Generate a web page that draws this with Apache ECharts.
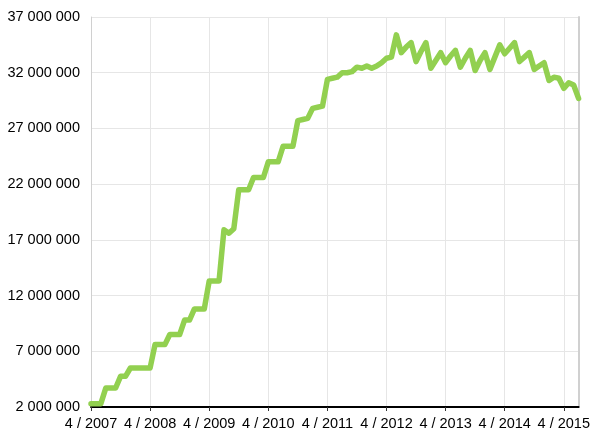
<!DOCTYPE html>
<html>
<head>
<meta charset="utf-8">
<script src="https://cdn.jsdelivr.net/npm/echarts@6/dist/echarts.min.js"></script>
<style>
html,body{margin:0;padding:0;background:#fff;}
#chart{width:593px;height:432px;}
</style>
</head>
<body>
<div id="chart"></div>
<script>
// Monthly categories: 4/2007 .. 7/2015
const startMonth = 4, startYear = 2007, monthCount = 100;
const categories = [];
for (let i = 0; i < monthCount; i++) {
  const m = (startMonth - 1 + i) % 12 + 1;
  const y = startYear + Math.floor((startMonth - 1 + i) / 12);
  categories.push(m + ' / ' + y);
}

// Series values
const values = [
  2300000, 2300000, 2300000, 3700000, 3700000, 3700000, 4750000, 4750000, 5500000, 5500000,
  5500000, 5500000, 5500000, 7600000, 7600000, 7600000, 8500000, 8500000, 8500000, 9800000,
  9800000, 10800000, 10800000, 10800000, 13300000, 13300000, 13300000, 17900000, 17600000, 18000000,
  21500000, 21500000, 21500000, 22600000, 22600000, 22600000, 24000000, 24000000, 24000000, 25400000,
  25400000, 25400000, 27700000, 27800000, 27900000, 28800000, 28900000, 29000000, 31400000, 31500000,
  31600000, 32000000, 32000000, 32100000, 32500000, 32400000, 32600000, 32400000, 32600000, 32900000,
  33300000, 33400000, 35400000, 33800000, 34300000, 34700000, 33000000, 33900000, 34700000, 32400000,
  33100000, 33800000, 32900000, 33500000, 34000000, 32500000, 33300000, 34000000, 32200000, 33100000,
  33800000, 32300000, 33400000, 34500000, 33700000, 34200000, 34700000, 33000000, 33400000, 33800000,
  32300000, 32600000, 32900000, 31300000, 31600000, 31500000, 30600000, 31100000, 30900000, 29700000
];

// Axis ticks
const yMin = 2000000, yMax = 37000000, yStep = 5000000;
const xLabelEvery = 12;

function fmt(v) {
  return String(v).replace(/\B(?=(\d{3})+(?!\d))/g, ' ');
}

const chart = echarts.init(document.getElementById('chart'), null, {renderer: 'canvas'});
chart.setOption({
  animation: false,
  backgroundColor: '#ffffff',
  grid: {left: 91, right: 10, top: 17, bottom: 25, containLabel: false},
  xAxis: {
    type: 'category',
    data: categories,
    boundaryGap: false,
    axisLine: {show: true, lineStyle: {color: '#000', width: 2}},
    axisTick: {show: true, length: 4, interval: (i) => i % xLabelEvery === 0, lineStyle: {color: '#333'}},
    axisLabel: {
      interval: (i) => i % xLabelEvery === 0,
      color: '#000', fontSize: 14.5, fontFamily: 'Liberation Sans, Arial, sans-serif', margin: 9
    },
    splitLine: {show: true, interval: (i) => i % xLabelEvery === 0, lineStyle: {color: '#e6e6e6', width: 1}}
  },
  yAxis: [{
    type: 'value',
    min: yMin, max: yMax, interval: yStep,
    axisLine: {show: true, lineStyle: {color: '#d0d0d0', width: 1}},
    axisTick: {show: false},
    axisLabel: {formatter: fmt, color: '#000', fontSize: 14.5, fontFamily: 'Liberation Sans, Arial, sans-serif', margin: 11},
    splitLine: {show: true, lineStyle: {color: '#e6e6e6', width: 1}}
  }, {
    type: 'value', position: 'right',
    min: yMin, max: yMax, interval: yStep,
    axisLine: {show: true, lineStyle: {color: '#d0d0d0', width: 2}},
    axisTick: {show: false}, axisLabel: {show: false}, splitLine: {show: false}
  }],
  series: [{
    type: 'line',
    data: values,
    yAxisIndex: 0,
    showSymbol: false,
    symbol: 'none',
    lineStyle: {color: '#92d050', width: 5.5, join: 'round', cap: 'round'},
    z: 3
  }]
});
</script>
</body>
</html>
